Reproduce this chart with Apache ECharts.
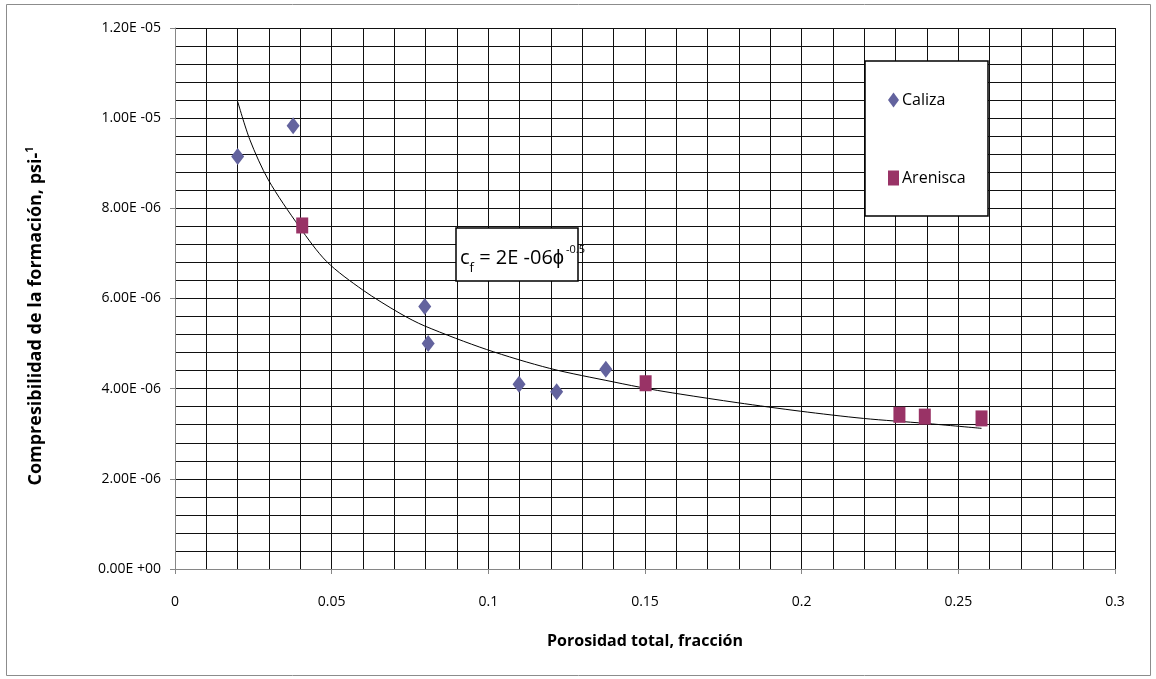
<!DOCTYPE html>
<html><head><meta charset="utf-8">
<script src="https://cdn.jsdelivr.net/npm/echarts@6/dist/echarts.min.js"></script>
<style>html,body{margin:0;padding:0;background:#fff}#c{width:1156px;height:679px}</style>
</head><body><div id="c"></div>
<script>
// Data
const calizaX = [0.0200, 0.0377, 0.0797, 0.0808, 0.1098, 0.1218, 0.1375];
const calizaY = [9.15e-6, 9.83e-6, 5.82e-6, 5.00e-6, 4.10e-6, 3.93e-6, 4.43e-6];
const areniscaX = [0.0406, 0.1502, 0.2312, 0.2393, 0.2574];
const areniscaY = [7.62e-6, 4.12e-6, 3.42e-6, 3.38e-6, 3.34e-6];
// Trend line, points
const trendX = [0.0200, 0.0239, 0.0298, 0.0397, 0.0484, 0.0599, 0.0718, 0.0797, 0.0994, 0.1196, 0.1399, 0.1516, 0.1612, 0.1794, 0.1996, 0.2197, 0.2395, 0.2574];
const trendY = [1.037e-5, 9.52e-6, 8.63e-6, 7.59e-6, 6.82e-6, 6.19e-6, 5.67e-6, 5.39e-6, 4.87e-6, 4.45e-6, 4.15e-6, 3.99e-6, 3.88e-6, 3.69e-6, 3.50e-6, 3.34e-6, 3.23e-6, 3.12e-6];
const xTickLabels = ['0', '0.05', '0.1', '0.15', '0.2', '0.25', '0.3'];
const yTickLabels = ['0.00E +00', '2.00E -06', '4.00E -06', '6.00E -06', '8.00E -06', '1.00E -05', '1.20E -05'];
const seriesNames = ['Caliza', 'Arenisca'];
const xTitle = 'Porosidad total, fracción';
const yTitle = ['Compresibilidad de la formación, psi-', '1'];
const trendLabel = ['c', 'f', ' = 2E -06\u03d5', '-0.5'];

const FONT = '"Liberation Sans Narrow", "Open Sans", sans-serif';
const pair = (xs, ys) => xs.map((x, i) => [x, ys[i]]);

const chart = echarts.init(document.getElementById('c'), null, {renderer: 'canvas'});
chart.setOption({
  animation: false,
  backgroundColor: '#fff',
  grid: {left: 175, right: 41, top: 28, bottom: 110, containLabel: false},
  xAxis: {
    type: 'value', min: 0, max: 0.3, interval: 0.05,
    axisLine: {show: true, onZero: false, lineStyle: {color: '#868686', width: 1}},
    axisTick: {show: true, length: 5, lineStyle: {color: '#868686'}},
    axisLabel: {margin: 26, fontFamily: FONT, fontSize: 14, color: '#000',
      formatter: v => xTickLabels[Math.round(v / 0.05)]},
    splitLine: {show: true, lineStyle: {color: '#111', width: 1}},
    minorTick: {show: false, splitNumber: 5},
    minorSplitLine: {show: true, lineStyle: {color: '#111', width: 1}},
    name: xTitle, nameLocation: 'middle', nameGap: 64,
    nameTextStyle: {fontFamily: FONT, fontSize: 16, fontWeight: 'bold', color: '#000'}
  },
  yAxis: {
    type: 'value', min: 0, max: 1.2e-5, interval: 2e-6,
    axisLine: {show: true, onZero: false, lineStyle: {color: '#868686', width: 1}},
    axisTick: {show: true, length: 5, lineStyle: {color: '#868686'}},
    axisLabel: {margin: 14, fontFamily: FONT, fontSize: 14, color: '#000',
      formatter: v => yTickLabels[Math.round(v / 2e-6)]},
    splitLine: {show: true, lineStyle: {color: '#111', width: 1}},
    minorTick: {show: false, splitNumber: 5},
    minorSplitLine: {show: true, lineStyle: {color: '#111', width: 1}}
  },
  legend: {
    data: [{name: seriesNames[0], icon: 'diamond'}, {name: seriesNames[1], icon: 'rect'}],
    orient: 'vertical', left: 888, top: 92, itemGap: 62, z: 100,
    itemWidth: 11, itemHeight: 15, padding: 0,
    textStyle: {fontFamily: FONT, fontSize: 16, color: '#000', padding: [0, 0, 0, -2]}
  },
  series: [
    {
      name: 'Tendencia', type: 'line', data: pair(trendX, trendY),
      smooth: 0.3, showSymbol: false, symbol: 'none', silent: true,
      lineStyle: {color: '#000', width: 1}, z: 3
    },
    {
      name: seriesNames[0], type: 'scatter', data: pair(calizaX, calizaY),
      symbol: 'diamond', symbolSize: [13, 17],
      itemStyle: {color: '#63639E', opacity: 1}, z: 4
    },
    {
      name: seriesNames[1], type: 'scatter', data: pair(areniscaX, areniscaY),
      symbol: 'rect', symbolSize: [12, 16],
      itemStyle: {color: '#993366', opacity: 1}, z: 4
    }
  ],
  graphic: [
    {type: 'rect', z: -1, shape: {x: 6.5, y: 4.5, width: 1144, height: 671},
      style: {fill: 'none', stroke: '#8c8c8c', lineWidth: 1}},
    {type: 'text', z: 10, x: 36, y: 316, rotation: Math.PI / 2,
      style: {
        text: '{t|' + yTitle[0] + '}{s|' + yTitle[1] + '}',
        align: 'center', verticalAlign: 'middle',
        rich: {
          t: {fontFamily: FONT, fontSize: 18, fontWeight: 'bold', fill: '#000', lineHeight: 24},
          s: {fontFamily: FONT, fontSize: 11, fontWeight: 'bold', fill: '#000', verticalAlign: 'top', lineHeight: 14}
        }
      }},
    {type: 'rect', z: 50, shape: {x: 865, y: 61, width: 123, height: 155},
      style: {fill: '#fff', stroke: '#000', lineWidth: 1.5}},
    {type: 'rect', z: 50, shape: {x: 456, y: 228, width: 122, height: 53},
      style: {fill: '#fff', stroke: '#000', lineWidth: 1.5}},
    {type: 'text', z: 51, x: 460, y: 258,
      style: {
        text: '{a|' + trendLabel[0] + '}{b|' + trendLabel[1] + '}{a|' + trendLabel[2] + '}',
        verticalAlign: 'middle',
        rich: {
          a: {fontFamily: FONT, fontSize: 20, fill: '#000', verticalAlign: 'middle', lineHeight: 34},
          b: {fontFamily: FONT, fontSize: 13, fill: '#000', verticalAlign: 'bottom', lineHeight: 30}
        }
      }},
    {type: 'text', z: 51, x: 566, y: 250,
      style: {text: trendLabel[3], fontFamily: FONT, fontSize: 11, fill: '#000',
        align: 'left', verticalAlign: 'middle'}}
  ]
});
</script>
</body></html>
